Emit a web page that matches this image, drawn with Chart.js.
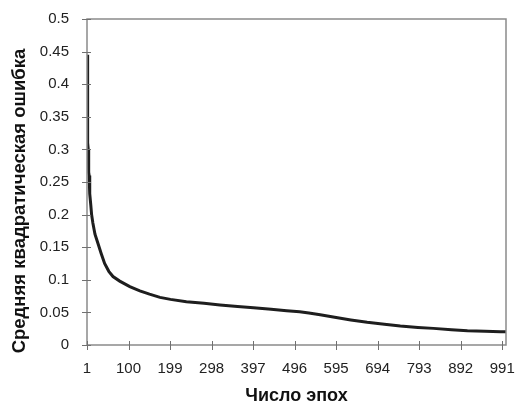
<!DOCTYPE html>
<html>
<head>
<meta charset="utf-8">
<script src="https://cdn.jsdelivr.net/npm/chart.js@4.4.1/dist/chart.umd.min.js"></script>
<style>
 html, body { margin: 0; padding: 0; background: #fff; }
 #wrap { width: 515px; height: 403px; }
</style>
</head>
<body>
<div id="wrap"><canvas id="errorChart"></canvas></div>
<script>
// epochs and error values
var epochs = [1, 2, 3, 4, 5, 6, 7, 8, 10, 12, 15, 20, 27, 35, 43, 53, 63, 79, 103, 127, 150, 175, 200, 238, 280, 318, 360, 398, 440, 477, 508, 530, 557, 588, 630, 669, 710, 748, 790, 827, 870, 908, 950, 987, 1000];
var errors = [0.445, 0.36, 0.31, 0.3, 0.265, 0.26, 0.24, 0.232, 0.215, 0.2, 0.187, 0.17, 0.156, 0.14, 0.125, 0.113, 0.105, 0.098, 0.0895, 0.083, 0.078, 0.073, 0.07, 0.0665, 0.064, 0.0614, 0.059, 0.057, 0.055, 0.0526, 0.051, 0.049, 0.0465, 0.043, 0.0385, 0.0348, 0.032, 0.029, 0.027, 0.0255, 0.0235, 0.022, 0.021, 0.0204, 0.0204];
var xTickLabels = [1, 100, 199, 298, 397, 496, 595, 694, 793, 892, 991];
var yTickValues = [0, 0.05, 0.1, 0.15, 0.2, 0.25, 0.3, 0.35, 0.4, 0.45, 0.5];
var yTitle = "Средняя квадратическая ошибка";

var points = epochs.map(function (e, i) {
 return { x: e, y: errors[i] };
});

// box round the plot, tick marks crossing the axes, y title
var frame = {
 id: "frame",
 afterDraw: function (chart) {
  var ctx = chart.ctx;
  var a = chart.chartArea;
  var xs = chart.scales.x;
  var ys = chart.scales.y;
  ctx.save();
  ctx.strokeStyle = "#8a8a8a";
  ctx.lineWidth = 1.5;
  ctx.strokeRect(a.left, a.top, a.right - a.left, a.bottom - a.top);
  ctx.strokeStyle = "#707070";
  ctx.lineWidth = 1;
  ctx.beginPath();
  xs.ticks.forEach(function (t, i) {
   var px = Math.round(xs.getPixelForTick(i)) + 0.5;
   ctx.moveTo(px, a.bottom - 4);
   ctx.lineTo(px, a.bottom + 5);
  });
  ys.ticks.forEach(function (t, i) {
   var py = Math.round(ys.getPixelForTick(i)) + 0.5;
   ctx.moveTo(a.left - 5, py);
   ctx.lineTo(a.left + 4, py);
  });
  ctx.stroke();

  ctx.translate(20, (a.top + xs.bottom) / 2 - 10);
  ctx.rotate(-Math.PI / 2);
  ctx.fillStyle = "#111";
  ctx.font = "bold 18.5px 'Liberation Sans'";
  ctx.textAlign = "center";
  ctx.textBaseline = "middle";
  ctx.fillText(yTitle, 0, 0);
  ctx.restore();
 },
};

new Chart(document.getElementById("errorChart"), {
 type: "line",
 data: {
  datasets: [
   {
    label: "Ошибка",
    data: points,
    borderColor: "#1e1e1e",
    borderWidth: 3,
    pointRadius: 0,
    tension: 0,
    fill: false,
   },
  ],
 },
 options: {
  responsive: true,
  maintainAspectRatio: false,
  animation: false,
  layout: { padding: { top: 19, right: 9, left: 0, bottom: 0 } },
  plugins: { legend: { display: false }, tooltip: { enabled: false } },
  scales: {
   x: {
    type: "linear",
    min: 1,
    max: 1000,
    afterBuildTicks: function (scale) {
     scale.ticks = xTickLabels.map(function (v) { return { value: v }; });
    },
    afterFit: function (scale) {
     scale.height = 58;
     scale.paddingLeft = 0;
     scale.paddingRight = 0;
    },
    grid: { display: false },
    border: { display: false },
    ticks: {
     autoSkip: false,
     maxRotation: 0,
     padding: 7,
     color: "#222",
     font: { family: "Liberation Sans", size: 15 },
    },
    title: {
     display: true,
     text: "Число эпох",
     color: "#111",
     padding: { top: 0, bottom: -2 },
     font: { family: "Liberation Sans", size: 18, weight: "bold", lineHeight: 1 },
    },
   },
   y: {
    min: 0,
    max: 0.5,
    afterBuildTicks: function (scale) {
     scale.ticks = yTickValues.map(function (v) { return { value: v }; });
    },
    afterFit: function (scale) { scale.width = 87; },
    grid: { display: false },
    border: { display: false },
    ticks: {
     padding: 10,
     color: "#222",
     font: { family: "Liberation Sans", size: 15 },
     callback: function (v) { return String(parseFloat(v.toFixed(2))); },
    },
   },
  },
 },
 plugins: [frame],
});
</script>
</body>
</html>
